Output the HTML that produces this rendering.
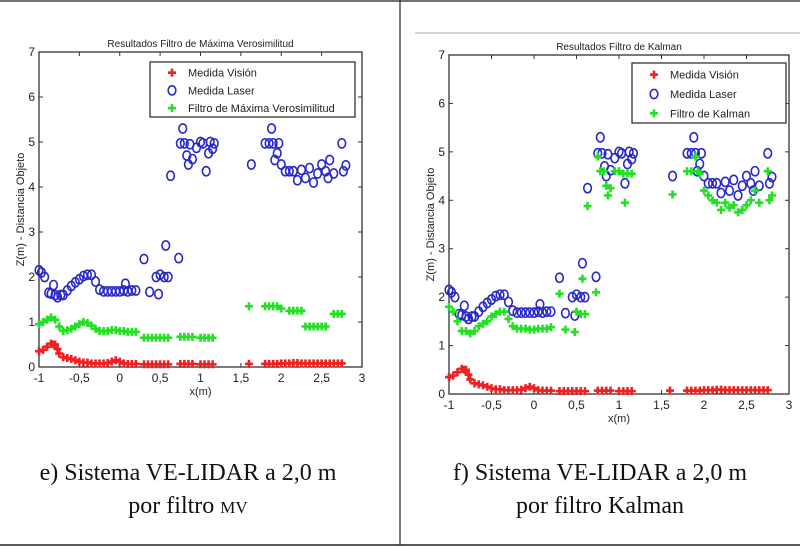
<!DOCTYPE html>
<html><head><meta charset="utf-8">
<style>
html,body{margin:0;padding:0;background:#fff;}
#wrap{position:relative;width:800px;height:549px;overflow:hidden;}
.cap{position:absolute;font-family:"Liberation Serif",serif;font-size:24px;color:#111;text-align:center;line-height:33px;}
</style></head>
<body>
<div id="wrap">
<svg id="svg" width="800" height="549" style="position:absolute;left:0;top:0">
  <line x1="0" y1="1" x2="800" y2="1" stroke="#222" stroke-width="1.2"/>
  <line x1="0" y1="545" x2="800" y2="545" stroke="#222" stroke-width="1.5"/>
  <line x1="400" y1="0" x2="400" y2="545" stroke="#222" stroke-width="1.2"/>
  <line x1="415" y1="33" x2="800" y2="33" stroke="#bbb" stroke-width="1.2"/>
</svg>
<div class="cap" style="left:0;width:376px;top:457px">e) Sistema VE-LIDAR a 2,0 m<br>por filtro <span style="font-size:17px">MV</span></div>
<div class="cap" style="left:400px;width:400px;top:457px">f) Sistema VE-LIDAR a 2,0 m<br>por filtro Kalman</div>
</div>
<script>
// ---- shared laser data ----
const laserX=[-1,-0.97,-0.93,-0.88,-0.85,-0.82,-0.8,-0.77,-0.73,-0.7,-0.65,-0.6,-0.55,-0.5,-0.45,-0.4,-0.35,-0.3,-0.25,-0.2,-0.15,-0.1,-0.05,0,0.05,0.07,0.1,0.15,0.2,0.3,0.37,0.45,0.48,0.5,0.55,0.6,0.57,0.63,0.73,0.75,0.78,0.8,0.83,0.85,0.87,0.9,0.95,1.0,1.03,1.07,1.1,1.12,1.15,1.17,1.63,1.8,1.85,1.88,1.9,1.92,1.95,1.97,2.0,2.05,2.1,2.15,2.2,2.25,2.3,2.35,2.4,2.45,2.5,2.55,2.58,2.6,2.65,2.75,2.77,2.8];
const laserY=[2.15,2.1,2.0,1.65,1.63,1.82,1.6,1.55,1.6,1.6,1.7,1.8,1.88,1.95,2.02,2.05,2.05,1.9,1.72,1.68,1.68,1.68,1.68,1.68,1.7,1.85,1.68,1.7,1.7,2.4,1.67,2.0,1.62,2.05,2.0,2.0,2.7,4.25,2.42,4.97,5.3,4.97,4.7,4.5,4.95,4.62,4.87,5.0,4.97,4.35,4.75,5.0,4.85,4.97,4.5,4.97,4.97,5.3,4.97,4.6,4.75,4.97,4.5,4.35,4.35,4.35,4.15,4.38,4.2,4.42,4.1,4.3,4.5,4.35,4.2,4.6,4.3,4.97,4.35,4.48];
// ---- vision data ----
const visionX=[-1,-0.95,-0.9,-0.85,-0.82,-0.8,-0.77,-0.75,-0.7,-0.65,-0.6,-0.55,-0.5,-0.45,-0.4,-0.35,-0.3,-0.25,-0.2,-0.15,-0.1,-0.05,0,0.05,0.1,0.15,0.2,0.3,0.35,0.4,0.45,0.5,0.55,0.6,0.75,0.8,0.85,0.9,1.0,1.05,1.1,1.15,1.6,1.8,1.85,1.9,1.95,2.0,2.05,2.1,2.15,2.2,2.25,2.3,2.35,2.4,2.45,2.5,2.55,2.6,2.65,2.7,2.75];
const visionY=[0.35,0.38,0.45,0.52,0.5,0.5,0.4,0.3,0.22,0.2,0.18,0.15,0.12,0.1,0.1,0.08,0.08,0.08,0.08,0.09,0.12,0.15,0.12,0.08,0.07,0.07,0.07,0.06,0.06,0.06,0.06,0.06,0.06,0.06,0.07,0.07,0.07,0.07,0.06,0.06,0.06,0.06,0.07,0.07,0.07,0.07,0.07,0.08,0.08,0.08,0.09,0.09,0.08,0.08,0.08,0.08,0.08,0.08,0.08,0.08,0.08,0.08,0.08];
// ---- MV filter ----
const mvX=[-1,-0.95,-0.9,-0.85,-0.8,-0.75,-0.7,-0.65,-0.6,-0.55,-0.5,-0.45,-0.4,-0.35,-0.3,-0.25,-0.2,-0.15,-0.1,-0.05,0,0.05,0.1,0.15,0.2,0.3,0.35,0.4,0.45,0.5,0.55,0.6,0.75,0.8,0.85,0.9,1.0,1.05,1.1,1.15,1.6,1.8,1.85,1.9,1.95,2.0,2.1,2.15,2.2,2.25,2.3,2.35,2.4,2.45,2.5,2.55,2.65,2.7,2.75];
const mvY=[0.95,1.0,1.05,1.1,1.05,0.9,0.8,0.82,0.85,0.9,0.95,1.0,0.98,0.92,0.85,0.8,0.8,0.8,0.82,0.82,0.8,0.8,0.78,0.78,0.78,0.65,0.65,0.65,0.65,0.65,0.65,0.65,0.67,0.67,0.67,0.67,0.65,0.65,0.65,0.65,1.35,1.35,1.35,1.35,1.35,1.3,1.25,1.25,1.25,1.25,0.9,0.9,0.9,0.9,0.9,0.9,1.18,1.18,1.18];
// ---- Kalman filter ----
const kfX=[-1,-0.95,-0.9,-0.85,-0.8,-0.75,-0.7,-0.65,-0.6,-0.55,-0.5,-0.45,-0.4,-0.35,-0.3,-0.25,-0.2,-0.15,-0.1,-0.05,0,0.05,0.1,0.15,0.2,0.3,0.37,0.48,0.5,0.55,0.6,0.57,0.63,0.73,0.75,0.78,0.82,0.85,0.87,0.9,0.95,1.0,1.05,1.07,1.1,1.15,1.63,1.8,1.85,1.9,1.93,1.95,2.0,2.05,2.1,2.15,2.2,2.25,2.3,2.35,2.4,2.45,2.5,2.55,2.6,2.65,2.75,2.77,2.8];
const kfY=[1.8,1.7,1.5,1.3,1.3,1.25,1.3,1.4,1.45,1.5,1.6,1.65,1.7,1.7,1.55,1.4,1.35,1.35,1.35,1.33,1.33,1.35,1.35,1.35,1.38,2.07,1.33,1.28,1.7,1.65,1.65,2.38,3.88,2.1,4.9,4.6,4.6,4.3,4.1,4.25,4.6,4.6,4.55,3.95,4.55,4.55,4.12,4.6,4.6,4.9,4.6,4.55,4.2,4.1,4.0,3.95,3.8,3.95,3.85,3.9,3.75,3.8,3.9,4.0,4.2,3.95,4.6,4.0,4.1];
const xTicks=[-1,-0.5,0,0.5,1,1.5,2,2.5,3];
const xTickLabels=["-1","-0,5","0","0,5","1","1,5","2","2,5","3"];
const yTicks=[0,1,2,3,4,5,6,7];

const NS="http://www.w3.org/2000/svg";
const svg=document.getElementById('svg');
function mk(tag,attrs,parent){const e=document.createElementNS(NS,tag);for(const k in attrs)e.setAttribute(k,attrs[k]);(parent||svg).appendChild(e);return e;}
function txt(s,attrs,parent){const e=mk('text',attrs,parent);e.textContent=s;return e;}

function chart(c){
  const g=mk('g',{});
  
  
  const sx=v=>c.L+(v-(-1))/4*(c.R-c.L);
  const sy=v=>c.B-v/7*(c.B-c.T);
  const font='font-family:"Liberation Sans",sans-serif;';
  const t=txt(c.title,{x:(c.L+c.R)/2,y:c.T-5,'text-anchor':'middle',style:font+'font-size:10px;fill:#222'},g);
  
  
  const fr=mk('rect',{x:c.L,y:c.T,width:c.R-c.L,height:c.B-c.T,fill:'none',stroke:'#333','stroke-width':1.3},g);
  
  
  xTicks.forEach((v,i)=>{
    const x=sx(v);
    mk('line',{x1:x,y1:c.B,x2:x,y2:c.B-4,stroke:'#333'},g);
    mk('line',{x1:x,y1:c.T,x2:x,y2:c.T+4,stroke:'#333'},g);
    const l=txt(xTickLabels[i],{x:x,y:c.B+15,'text-anchor':'middle',style:font+'font-size:12px;fill:#222'},g);
    
    
  });
  yTicks.forEach(v=>{
    const y=sy(v);
    mk('line',{x1:c.L,y1:y,x2:c.L+4,y2:y,stroke:'#333'},g);
    mk('line',{x1:c.R,y1:y,x2:c.R-4,y2:y,stroke:'#333'},g);
    const l=txt(String(v),{x:c.L-4,y:y+4,'text-anchor':'end',style:font+'font-size:12px;fill:#222'},g);
    
    
  });
  const xl=txt('x(m)',{x:(c.L+c.R)/2,y:c.B+28,'text-anchor':'middle',style:font+'font-size:11px;fill:#222'},g);
  
  
  const yl=txt('Z(m) - Distancia Objeto',{x:0,y:0,'text-anchor':'middle',transform:`translate(${c.L-15},${(c.T+c.B)/2}) rotate(-90)`,style:font+'font-size:11px;fill:#222'},g);
  
  
  function plus(x,y,col,parent){
    mk('line',{x1:x-4,y1:y,x2:x+4,y2:y,stroke:col,'stroke-width':2.6},parent);
    mk('line',{x1:x,y1:y-4,x2:x,y2:y+4,stroke:col,'stroke-width':2.6},parent);
  }
  function circ(x,y,parent){mk('ellipse',{cx:x,cy:y,rx:3.8,ry:4.6,fill:'none',stroke:'#2828c8','stroke-width':1.6},parent);}
  const gR=mk('g',{},g);
  
  
  visionX.forEach((v,i)=>plus(sx(v),sy(visionY[i]),'#ee2020',gR));
  const gL=mk('g',{},g);
  
  
  laserX.forEach((v,i)=>circ(sx(v),sy(laserY[i]),gL));
  const gF=mk('g',{},g);
  
  
  c.fx.forEach((v,i)=>plus(sx(v),sy(c.fy[i]),'#22e022',gF));
  // legend
  const lg=mk('g',{},g);
  
  
  mk('rect',{x:c.lx,y:c.ly,width:c.lw,height:c.lh,fill:'#fff',stroke:'#333','stroke-width':1.3},lg);
  const names=['Medida Visión','Medida Laser',c.fname];
  const step=c.lh/3.1;
  names.forEach((n,i)=>{
    const y=c.ly+step*(i+0.6);
    if(i==1)circ(c.lx+22,y,lg);else plus(c.lx+22,y,i==0?'#ee2020':'#22e022',lg);
    const e=txt(n,{x:c.lx+38,y:y+4,style:font+'font-size:11px;fill:#222'},lg);
    
    
  });
}
chart({name:'chart-max-likelihood',title:'Resultados Filtro de Máxima Verosimilitud',L:39,R:362,T:52,B:367,fx:mvX,fy:mvY,fname:'Filtro de Máxima Verosimilitud',lx:150,ly:62,lw:205,lh:55});
chart({name:'chart-kalman',title:'Resultados Filtro de Kalman',L:449,R:789,T:55,B:394,fx:kfX,fy:kfY,fname:'Filtro de Kalman',lx:632,ly:63,lw:154,lh:60});
</script>
</body></html>
